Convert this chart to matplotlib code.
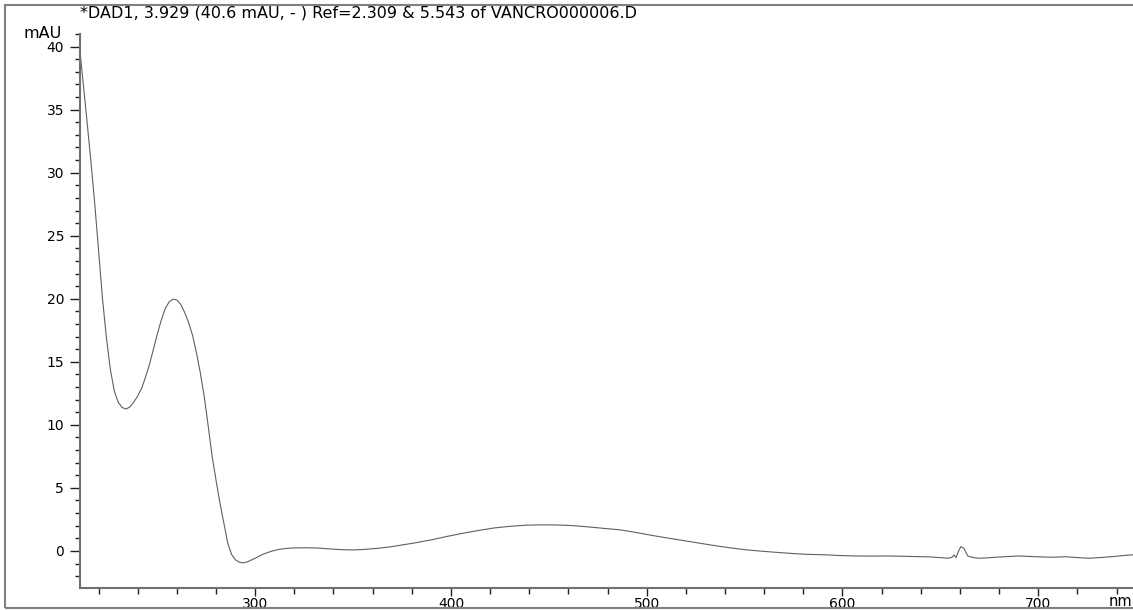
import numpy as np
from matplotlib import pyplot as plt
from matplotlib.patches import Rectangle
from matplotlib.ticker import MultipleLocator

# spectrum (wavelength nm, absorbance mAU)
wavelength = [210.5, 212, 214, 216, 218, 220, 222, 224, 226, 228,
              230, 232, 234, 236, 238, 240, 242, 244, 246, 248,
              250, 252, 254, 256, 258, 260, 262, 264, 266, 268,
              270, 272, 274, 276, 278, 280, 282, 284, 286, 288,
              290, 292, 294, 296, 298, 300, 304, 308, 312, 316,
              320, 326, 332, 338, 344, 350, 356, 362, 368, 375,
              382, 390, 398, 406, 414, 422, 430, 438, 446, 454,
              462, 470, 478, 486, 494, 502, 510, 518, 526, 534,
              542, 550, 558, 566, 574, 582, 590, 598, 606, 614,
              622, 630, 638, 644, 650, 654, 656, 657, 658, 659.5,
              660.5, 662, 663, 664, 666, 668, 670, 674, 678, 684,
              690, 696, 702, 708, 714, 720, 726, 732, 738, 744, 749.5]
absorbance = [39.6, 37.3, 34.2, 31.0, 27.6, 23.8, 20.0, 16.9, 14.4, 12.7,
              11.8, 11.38, 11.25, 11.42, 11.8, 12.3, 12.9, 13.8, 14.8, 16.0,
              17.2, 18.3, 19.2, 19.75, 19.97, 19.9, 19.55, 18.9, 18.1, 17.1,
              15.7, 14.1, 12.2, 9.9, 7.5, 5.6, 3.8, 2.2, 0.6, -0.3,
              -0.72, -0.9, -0.94, -0.87, -0.72, -0.58, -0.26, -0.04, 0.12, 0.2,
              0.24, 0.25, 0.23, 0.16, 0.1, 0.08, 0.12, 0.2, 0.3, 0.47,
              0.65, 0.88, 1.15, 1.4, 1.62, 1.82, 1.95, 2.04, 2.07, 2.06,
              2.01, 1.91, 1.79, 1.68, 1.48, 1.25, 1.04, 0.84, 0.64, 0.44,
              0.26, 0.1, -0.01, -0.11, -0.2, -0.27, -0.3, -0.36, -0.4, -0.41,
              -0.4, -0.42, -0.45, -0.47, -0.53, -0.58, -0.5, -0.32, -0.53, 0.05,
              0.34, 0.21, -0.1, -0.4, -0.5, -0.55, -0.58, -0.55, -0.5, -0.45,
              -0.4, -0.44, -0.48, -0.5, -0.46, -0.53, -0.58, -0.52, -0.45, -0.36, -0.29]

title = "*DAD1, 3.929 (40.6 mAU, - ) Ref=2.309 & 5.543 of VANCRO000006.D"

W, H = 1133, 610
fig = plt.figure(figsize=(W / 100, H / 100), dpi=100)
ax = fig.add_axes([80 / W, 22 / H, 1060 / W, 554 / H])

ax.plot(wavelength, absorbance, color='#606060', lw=0.8)

ax.set_xlim(210.5, 752)
ax.set_ylim(-2.94, 41.0)

ax.xaxis.set_major_locator(MultipleLocator(100))
ax.xaxis.set_minor_locator(MultipleLocator(20))
ax.yaxis.set_major_locator(MultipleLocator(5))
ax.yaxis.set_minor_locator(MultipleLocator(1))

for s in ['top', 'right']:
    ax.spines[s].set_visible(False)
for s in ['left', 'bottom']:
    ax.spines[s].set_color('#707070')
    ax.spines[s].set_linewidth(1.5)

ax.tick_params(axis='y', which='major', length=7.5, width=1, color='#202020',
               labelsize=10, pad=4)
ax.tick_params(axis='y', which='minor', length=3.6, width=1, color='#202020')
ax.tick_params(axis='x', which='major', length=6, width=1, color='#202020',
               labelsize=10, pad=0.3)
ax.tick_params(axis='x', which='minor', length=4.5, width=1, color='#202020')

fig.text(80 / W, 1 - 13 / H, title, ha='left', va='center', fontsize=11.5)
fig.text(62 / W, 1 - 33 / H, 'mAU', ha='right', va='center', fontsize=11.5)
fig.text(1132 / W, 1 - 602 / H, 'nm', ha='right', va='center', fontsize=10.5)

# outer frame of the printout
fig.add_artist(Rectangle((5 / W, 2 / H), 1.2, 603 / H, transform=fig.transFigure,
                         fill=False, edgecolor='#808080', lw=1.5))

fig.savefig('out.png', dpi=100)
